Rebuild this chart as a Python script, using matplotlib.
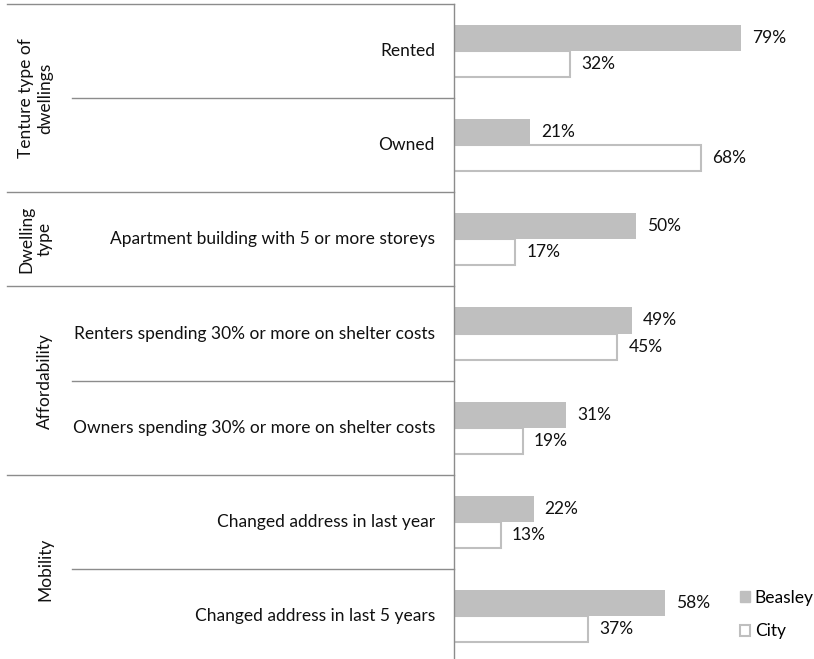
import matplotlib.pyplot as plt
import matplotlib.transforms as mtransforms
from matplotlib.patches import Patch

plt.rcParams['font.family'] = ['Lato', 'DejaVu Sans']

# data
categories = ['Rented', 'Owned', 'Apartment building with 5 or more storeys',
              'Renters spending 30% or more on shelter costs',
              'Owners spending 30% or more on shelter costs',
              'Changed address in last year', 'Changed address in last 5 years']
beasley = [79, 21, 50, 49, 31, 22, 58]
city = [32, 68, 17, 45, 19, 13, 37]
groups = ['Tenture type of\ndwellings', 'Dwelling\ntype', 'Affordability', 'Mobility']
group_sizes = [2, 1, 2, 2]

W, H = 814, 659
fs = 12.5
fig = plt.figure(figsize=(W / 100, H / 100), dpi=100)
ax_left = 453.5 / W
ax = fig.add_axes([ax_left, -4 / H, 1 - ax_left, 659 / H])

bar_h = 0.277
grey = '#bfbfbf'
line_col = '#8c8c8c'
txt_col = '#111111'
ypos = list(range(len(categories)))

ax.barh([y - bar_h / 2 for y in ypos], beasley, height=bar_h, color=grey, label='Beasley')
ax.barh([y + bar_h / 2 for y in ypos], city, height=bar_h, color='white',
        edgecolor=grey, linewidth=1.5, label='City')

# value labels
for y, b, c in zip(ypos, beasley, city):
    ax.annotate(f'{b}%', (b, y - bar_h / 2), xytext=(8, 0), textcoords='offset points',
                va='center', ha='left', fontsize=fs, color=txt_col)
    ax.annotate(f'{c}%', (c, y + bar_h / 2), xytext=(8, 0), textcoords='offset points',
                va='center', ha='left', fontsize=fs, color=txt_col)

ax.set_xlim(0, (W - 453.5) / 3.64)
ax.set_ylim(len(categories) - 0.5, -0.5)
ax.set_xticks([])
ax.set_yticks([])
for s in ['top', 'right', 'bottom']:
    ax.spines[s].set_visible(False)
ax.spines['left'].set_color(line_col)
ax.spines['left'].set_linewidth(1)

# category labels and separator lines (fig x, data y)
trans = mtransforms.blended_transform_factory(fig.transFigure, ax.transData)
for y, name in zip(ypos, categories):
    ax.text(435 / W, y, name, transform=trans, ha='right', va='center',
            fontsize=fs, color=txt_col)

ax.plot([7 / W, ax_left], [-0.5, -0.5], transform=trans, color=line_col, lw=1, clip_on=False)
start = 0
for g, n in zip(groups, group_sizes):
    for k in range(1, n):
        yy = start + k - 0.5
        ax.plot([72 / W, ax_left], [yy, yy], transform=trans, color=line_col, lw=1, clip_on=False)
    end = start + n - 0.5
    if start + n < len(categories):
        ax.plot([7 / W, ax_left], [end, end], transform=trans, color=line_col, lw=1, clip_on=False)
    ax.text(53 / W, start + (n - 1) / 2, g, transform=trans, rotation=90,
            ha='right', va='center', multialignment='center', fontsize=fs, color=txt_col)
    start += n

handles = [Patch(facecolor=grey, edgecolor=grey, label='Beasley'),
           Patch(facecolor='white', edgecolor=grey, linewidth=1.5, label='City')]
fig.legend(handles=handles, loc='center left', bbox_to_anchor=(740 / W, 1 - 614.5 / H),
           frameon=False, fontsize=fs, handlelength=0.6, handleheight=0.6,
           handletextpad=0.25, labelspacing=1.0, borderpad=0, borderaxespad=0)

fig.savefig('out.png', dpi=100)
